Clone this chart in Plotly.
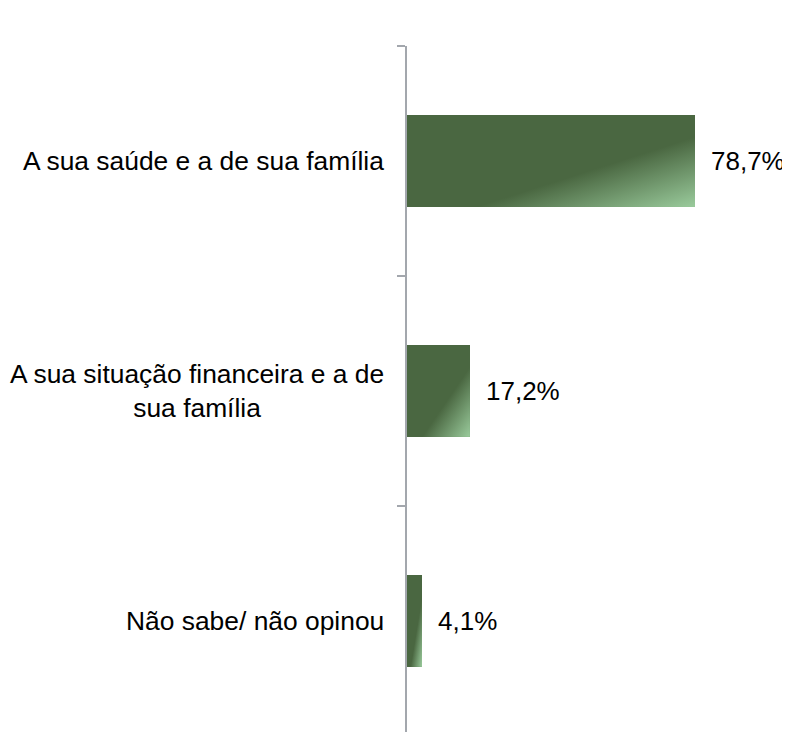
import base64
import plotly.graph_objects as go

categories = [
    "A sua saúde e a de sua família",
    "A sua situação financeira e a de<br>sua família",
    "Não sabe/ não opinou",
]
values = [78.7, 17.2, 4.1]
value_labels = ["78,7%", "17,2%", "4,1%"]

DARK = "#4A6741"
LIGHT = "#9ACB9C"
AXIS = "#A3A7AD"
FONT = "Liberation Sans, Arial, sans-serif"
BAR_W = 0.4

positions = list(range(len(categories)))

svg = (
    '<svg xmlns="http://www.w3.org/2000/svg" width="100" height="100" '
    'viewBox="0 0 100 100" preserveAspectRatio="none">'
    '<defs><linearGradient id="g" x1="0" y1="0" x2="1" y2="1">'
    f'<stop offset="0" stop-color="{DARK}"/>'
    f'<stop offset="0.62" stop-color="{DARK}"/>'
    f'<stop offset="1" stop-color="{LIGHT}"/>'
    '</linearGradient></defs>'
    '<rect x="0" y="0" width="100" height="100" fill="url(#g)"/></svg>'
)
grad_src = "data:image/svg+xml;base64," + base64.b64encode(svg.encode()).decode()

fig = go.Figure()
fig.add_trace(go.Bar(
    orientation="h",
    x=values,
    y=positions,
    width=BAR_W,
    marker=dict(color=DARK, line=dict(width=0)),
    hoverinfo="skip",
    showlegend=False,
))

images = []
annotations = []
for i, (cat, v, lab) in enumerate(zip(categories, values, value_labels)):
    images.append(dict(
        source=grad_src, xref="x", yref="y",
        x=0, y=i - BAR_W / 2, sizex=v, sizey=BAR_W,
        xanchor="left", yanchor="top", sizing="stretch", layer="above",
    ))
    annotations.append(dict(
        x=v, y=i, xref="x", yref="y", text=lab, showarrow=False,
        xanchor="left", yanchor="middle", xshift=14,
        font=dict(family=FONT, size=26, color="#000000"),
    ))
    annotations.append(dict(
        x=0, y=i, xref="paper", yref="y", text=cat, showarrow=False,
        xanchor="right", yanchor="middle", align="center", xshift=-21,
        font=dict(family=FONT, size=26.4, color="#000000"),
    ))

fig.update_layout(
    width=782, height=724,
    margin=dict(l=399, r=17, t=38, b=0),
    paper_bgcolor="white", plot_bgcolor="white",
    images=images,
    annotations=annotations,
    xaxis=dict(range=[0, 100], visible=False, fixedrange=True),
    yaxis=dict(
        range=[2.483, -0.5],
        tickmode="array",
        tickvals=[-0.5, 0.5, 1.5, 2.5],
        showticklabels=False,
        ticks="outside", ticklen=8, tickwidth=1.5, tickcolor=AXIS,
        showline=True, linecolor=AXIS, linewidth=1.5,
        showgrid=False, zeroline=False,
    ),
    bargap=0,
)

fig.write_html("out.html")
